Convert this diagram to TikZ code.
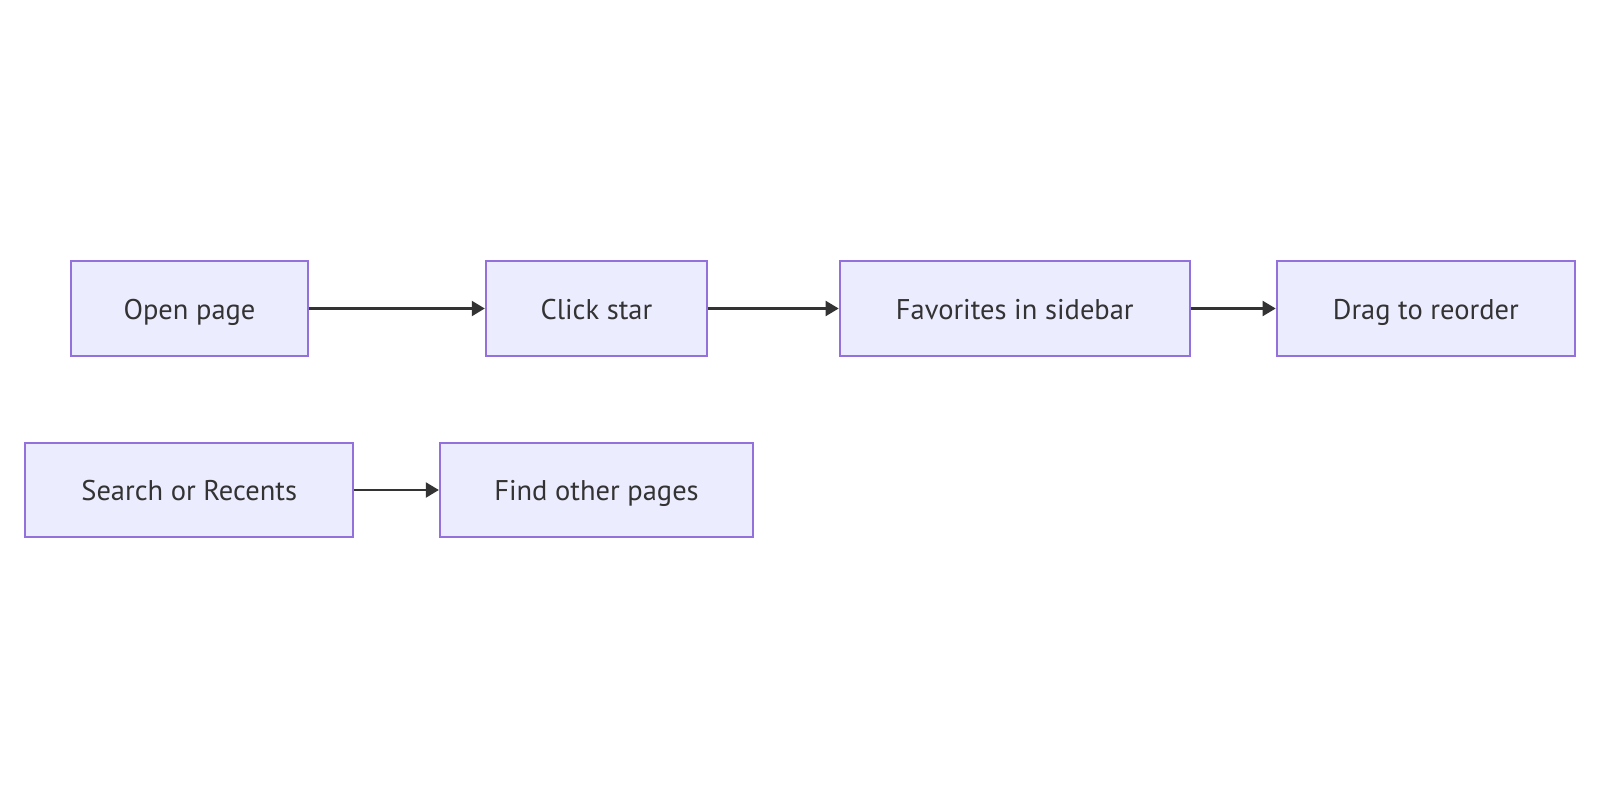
\documentclass[tikz,border=0pt]{standalone}
\usepackage{fontspec}
\setmainfont{PT Sans}
\usetikzlibrary{arrows.meta}

\definecolor{boxfill}{HTML}{ECECFF}
\definecolor{boxline}{HTML}{9370DB}
\definecolor{ink}{HTML}{333333}

\tikzset{
	stepbox/.style={draw=boxline,fill=boxfill,line width=0.6pt,text=ink,
		font=\fontsize{8.1pt}{9.7pt}\selectfont,inner sep=0pt,anchor=center,
		text height=0.6em,text depth=0pt},
	link/.style={draw=ink,line width=0.6pt,-{Triangle[length=1.3mm,width=1.5mm]}}
}

\begin{document}
\begin{tikzpicture}[x=0.01cm,y=-0.01cm]
		\useasboundingbox (0,0) rectangle (1600,800);
		% first row
		\node[stepbox,minimum width=2.37cm,minimum height=0.95cm] (open) at (189.5,308.5) {Open page};
		\node[stepbox,minimum width=2.21cm,minimum height=0.95cm] (star) at (596.4,308.5) {Click star};
		\node[stepbox,minimum width=3.50cm,minimum height=0.95cm] (fav) at (1014.8,308.5) {Favorites in sidebar};
		\node[stepbox,minimum width=2.98cm,minimum height=0.95cm] (drag) at (1425.8,308.5) {Drag to reorder};
		% second row
		\node[stepbox,minimum width=3.28cm,minimum height=0.94cm] (search) at (189.2,490) {Search or Recents};
		\node[stepbox,minimum width=3.13cm,minimum height=0.94cm] (find) at (596.5,490) {Find other pages};
		\draw[link] (open) -- (star);
		\draw[link] (star) -- (fav);
		\draw[link] (fav) -- (drag);
		\draw[link] (search) -- (find);
	\end{tikzpicture}
\end{document}
